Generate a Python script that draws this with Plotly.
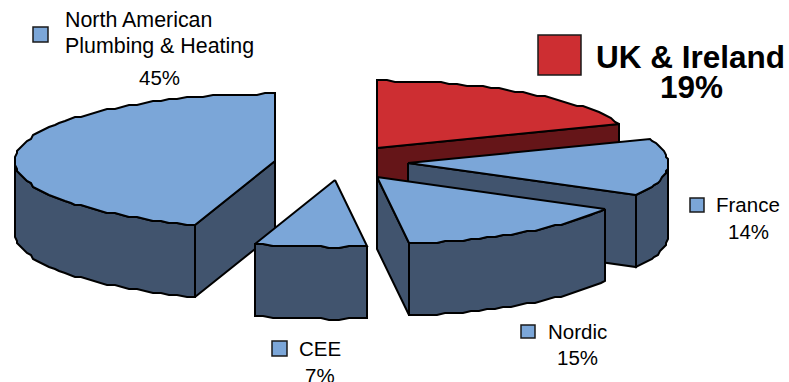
import numpy as np
import plotly.graph_objects as go

# Revenue share by region
categories = ["UK & Ireland", "France", "Nordic", "CEE", "North American Plumbing & Heating"]
shares = [19, 14, 15, 7, 45]

# Pie geometry, in page pixels
RADIUS = 260
SQUASH = 0.258
DEPTH = 72
GRID = 2.0
apex_x = [377, 408, 377, 335, 275]
apex_y = [148, 163, 177, 180, 161]
top_colors = ["#CD2E32", "#7BA6D8", "#7BA6D8", "#7BA6D8", "#7BA6D8"]
side_colors = ["#651518", "#41546E", "#41546E", "#41546E", "#41546E"]
draw_order = [0, 1, 2, 4, 3]
EDGE = "#000000"


def rim(cx, cy, a0, a1, step=2.0):
    """Rim points between two clockwise-from-north angles, in degrees."""
    n = max(2, int(abs(a1 - a0) / step) + 1)
    t = np.radians(np.linspace(a0, a1, n))
    # The outline is stored on a coarse device grid, which gives it its stepped edge
    xs = cx + np.round(RADIUS * np.sin(t) / GRID) * GRID
    ys = cy + np.round(-RADIUS * SQUASH * np.cos(t) / GRID) * GRID
    return xs.tolist(), ys.tolist()


def face(fig, xs, ys, color):
    fig.add_trace(go.Scatter(
        x=xs + xs[:1], y=ys + ys[:1], mode="lines", fill="toself",
        fillcolor=color, line=dict(color=EDGE, width=2, shape="linear"),
        hoverinfo="skip", showlegend=False,
    ))


def cut_face(fig, cx, cy, angle, color):
    rx, ry = rim(cx, cy, angle, angle + 1)
    ex, ey = rx[0], ry[0]
    face(fig, [cx, ex, ex, cx], [cy, ey, ey + DEPTH, cy + DEPTH], color)


fig = go.Figure()
edges = np.concatenate([[0], np.cumsum(shares)]) * 3.6

for i in draw_order:
    a0, a1 = edges[i], edges[i + 1]
    cx, cy = apex_x[i], apex_y[i]
    side = side_colors[i]
    # Cut faces turn towards the viewer only on one half of the turn
    if np.sin(np.radians(a1)) > 1e-6:
        cut_face(fig, cx, cy, a1, side)
    if np.sin(np.radians(a0)) < -1e-6:
        cut_face(fig, cx, cy, a0, side)
    # Front rim is the part of the arc on the near half of the ellipse
    lo, hi = max(a0, 90), min(a1, 270)
    if hi > lo:
        rx, ry = rim(cx, cy, lo, hi)
        face(fig, rx + rx[::-1], ry + [y + DEPTH for y in ry[::-1]], side)
    rx, ry = rim(cx, cy, a0, a1)
    face(fig, [cx] + rx, [cy] + ry, top_colors[i])

# Legend keys, one per region
key_boxes = [
    (538, 35, 581, 75, top_colors[0]),
    (690, 198, 704, 212, top_colors[1]),
    (521, 325, 535, 338, top_colors[2]),
    (272, 341, 287, 356, top_colors[3]),
    (33, 27, 48, 42, top_colors[4]),
]
shapes = [
    dict(type="rect", xref="x", yref="y", x0=x0, y0=y0, x1=x1, y1=y1,
         fillcolor=c, line=dict(color="#1a1a1a", width=1.5))
    for x0, y0, x1, y1, c in key_boxes
]

FONT = "Liberation Sans, Arial, sans-serif"


def label(text, x, y, size=20.5, bold=False, anchor="center"):
    fig.add_annotation(
        x=x, y=y, xref="x", yref="y", text=f"<b>{text}</b>" if bold else text,
        showarrow=False, xanchor=anchor, yanchor="middle",
        font=dict(family=FONT, size=size, color="#000000"),
    )


label("North American", 63, 20, size=21.4, anchor="left")
label("Plumbing &amp; Heating", 63, 46, size=21.4, anchor="left")
label(f"{shares[4]}%", 159, 77)
label("UK &amp; Ireland", 690, 57, size=31.5, bold=True)
label(f"{shares[0]}%", 691, 87, size=31.5, bold=True)
label("France", 748, 204)
label(f"{shares[1]}%", 748, 231)
label("Nordic", 577, 331)
label(f"{shares[2]}%", 577, 357)
label("CEE", 320, 348)
label(f"{shares[3]}%", 320, 375)

fig.update_layout(
    width=789, height=382, margin=dict(l=0, r=0, t=0, b=0),
    paper_bgcolor="#FFFFFF", plot_bgcolor="#FFFFFF", shapes=shapes,
    xaxis=dict(range=[0, 789], visible=False, fixedrange=True),
    yaxis=dict(range=[382, 0], visible=False, fixedrange=True),
    showlegend=False,
)
fig.write_html("out.html", config={"displayModeBar": False})
